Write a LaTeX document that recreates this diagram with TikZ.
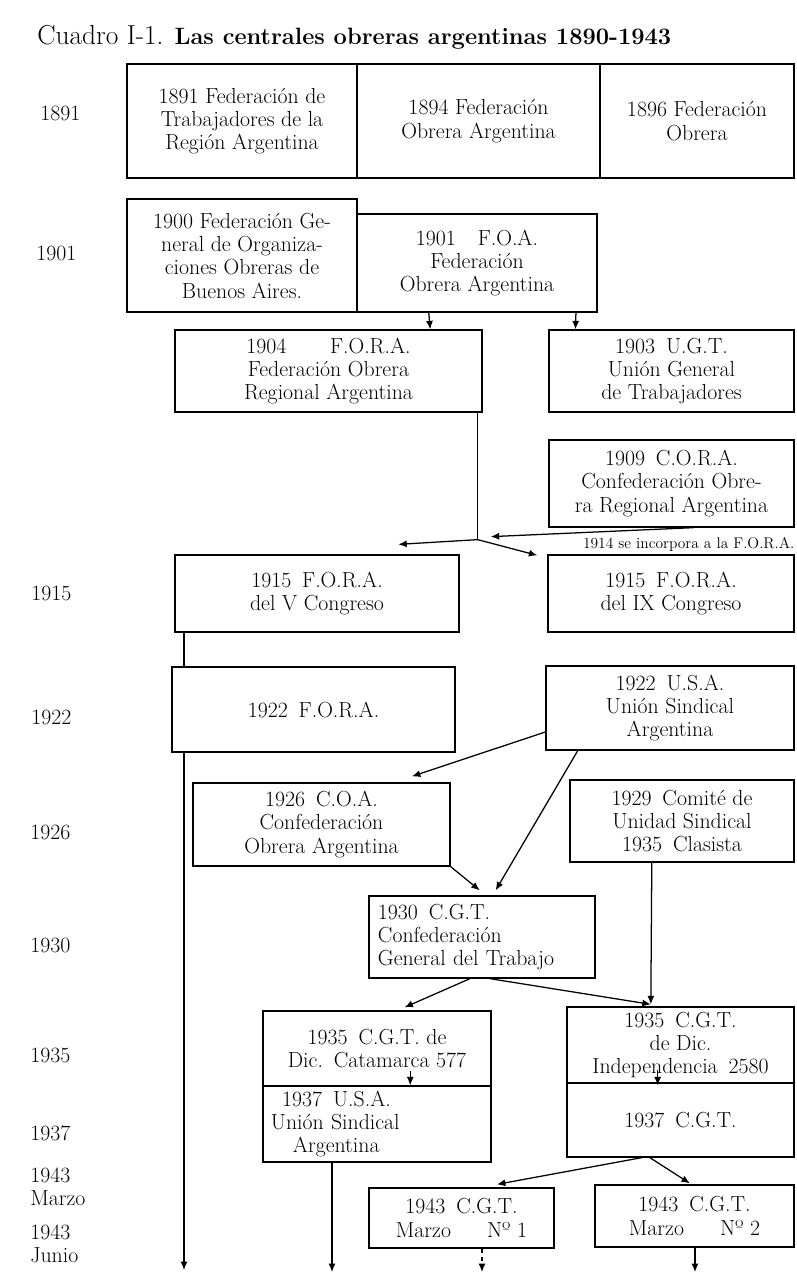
\documentclass[tikz,border=0pt]{standalone}
\usepackage{fontspec}
\usepackage{tikz}
\usetikzlibrary{arrows.meta,calc,positioning}
\def\Txt{\fontsize{15.5}{16.6}\selectfont}
\def\Nota{\fontsize{11}{12}\selectfont}

\begin{document}
\begin{tikzpicture}[x=0.025cm,y=-0.025cm,
	caja/.style={draw,line width=0.9pt,inner sep=2pt,align=center,font=\Txt},
	anio/.style={anchor=west,align=left,inner sep=0pt,font=\Txt},
	nota/.style={inner sep=0pt,font=\Nota},
	flecha/.style={line width=0.9pt,-{Latex[length=6pt,width=5pt]}},
	linea/.style={line width=0.9pt}]
	\useasboundingbox (0,0) rectangle (796,1276);
	% 
	\node[anchor=base west,inner sep=0pt] (tit) at (37,44) {\fontsize{19.5}{21}\selectfont Cuadro I-1. \fontsize{16.8}{18}\selectfont\bfseries Las centrales obreras argentinas 1890-1943};
	% 
	\node[anio] (y91) at (40,113) {1891};
	\node[anio] (y01) at (36,253) {1901};
	\node[anio] (y15) at (31,593) {1915};
	\node[anio] (y22) at (31,717) {1922};
	\node[anio] (y26) at (30,832) {1926};
	\node[anio] (y30) at (30,945) {1930};
	\node[anio] (y35) at (30,1055) {1935};
	\node[anio] (y37) at (30,1133) {1937};
	\node[anio] (y43m) at (30,1187) {1943\\Marzo};
	\node[anio] (y43j) at (30,1244) {1943\\Junio};
	% 
	\node[caja,minimum width=5.75cm,minimum height=2.85cm] (f91) at (242,121) {1891 Federación de\\Trabajadores de la\\Región Argentina};
	\node[caja,minimum width=6.075cm,minimum height=2.85cm] (f94) at (478.5,121) {1894 Federación\\Obrera Argentina};
	\node[caja,minimum width=4.85cm,minimum height=2.85cm] (f96) at (697,121) {1896 Federación\\Obrera};
	% 
	\node[caja,minimum width=5.75cm,minimum height=2.825cm] (f00) at (242,255.5) {1900 Federación Ge-\\neral de Organiza-\\ciones Obreras de\\Buenos Aires.};
	\node[caja,minimum width=6cm,minimum height=2.45cm] (f01) at (477,263) {1901\quad F.O.A.\\Federación\\Obrera Argentina};
	% 
	\node[caja,minimum width=7.675cm,minimum height=2.05cm] (f04) at (328.5,371) {1904\qquad F.O.R.A.\\Federación Obrera\\Regional Argentina};
	\node[caja,minimum width=6.125cm,minimum height=2.05cm] (u03) at (671.5,371) {1903\enspace U.G.T.\\Unión General\\de Trabajadores};
	\node[caja,minimum width=6.125cm,minimum height=2.175cm] (c09) at (671.5,483.5) {1909\enspace C.O.R.A.\\Confederación Obre-\\ra Regional Argentina};
	\node[nota,below left=7pt and 0pt of c09.south east] (n14) {1914 se incorpora a la F.O.R.A.};
	% 
	\node[caja,minimum width=7.1cm,minimum height=1.925cm] (f15a) at (317,593.5) {1915\enspace F.O.R.A.\\del V Congreso};
	\node[caja,minimum width=6.15cm,minimum height=1.925cm] (f15b) at (671,593.5) {1915\enspace F.O.R.A.\\del IX Congreso};
	\node[caja,minimum width=7.075cm,minimum height=2.125cm] (f22) at (313.5,709.5) {1922\enspace F.O.R.A.};
	\node[caja,minimum width=6.2cm,minimum height=2.1cm] (u22) at (670,708) {1922\enspace U.S.A.\\Unión Sindical\\Argentina};
	\node[caja,minimum width=6.425cm,minimum height=2.075cm] (c26) at (321.5,824.5) {1926\enspace C.O.A.\\Confederación\\Obrera Argentina};
	\node[caja,minimum width=5.6cm,minimum height=2.05cm] (c29) at (682,821) {1929\enspace Comité de\\Unidad Sindical\\1935\enspace Clasista};
	\node[caja,minimum width=5.65cm,minimum height=2.05cm,text width=5.2cm,align=left] (c30) at (482,937) {1930\enspace C.G.T.\\Confederación\\General del Trabajo};
	% 
	\node[caja,minimum width=5.7cm,minimum height=1.875cm] (c35a) at (377,1048.5) {1935\enspace C.G.T. de\\Dic.\enspace Catamarca 577};
	\node[caja,minimum width=5.7cm,minimum height=1.9cm,text width=5.3cm,align=left] (u37) at (377,1124) {\hspace*{8pt}1937\enspace U.S.A.\\Unión Sindical\\\hspace*{0.55cm}Argentina};
	\node[caja,minimum width=5.675cm,minimum height=1.9cm] (c35b) at (680.5,1045) {1935\enspace C.G.T.\\de Dic.\\Independencia\enspace 2580};
	\node[caja,minimum width=5.675cm,minimum height=1.85cm] (c37) at (680.5,1120) {1937\enspace C.G.T.};
	\node[caja,minimum width=4.625cm,minimum height=1.5cm] (c43a) at (461.5,1218) {1943\enspace C.G.T.\\Marzo\hspace{0.9cm}Nº 1};
	\node[caja,minimum width=4.975cm,minimum height=1.55cm] (c43b) at (694.5,1216) {1943\enspace C.G.T.\\Marzo\hspace{0.9cm}Nº 2};
	% 
	\coordinate (j1) at ($(f04.south west)!0.984!(f04.south east)+(0,127)$);
	\coordinate (e1) at (184,1270);
	\coordinate (e2) at (332,1272);
	\coordinate (e3) at (482,1272);
	\coordinate (e4) at (695,1272);
	% 
	\draw[flecha] ($(f01.south west)!0.30!(f01.south east)$) -- ($(f04.north west)!0.83!(f04.north east)$);
	\draw[flecha] ($(f01.south west)!0.91!(f01.south east)$) -- ($(u03.north west)!0.11!(u03.north east)$);
	\draw[linea] ($(f04.south west)!0.984!(f04.south east)$) -- (j1);
	\draw[flecha] (j1) -- ($(f15a.north west)!0.785!(f15a.north east)+(0,-10)$);
	\draw[flecha] (j1) -- ($(f15b.north west)+(-10,1)$);
	\draw[flecha] ($(c09.south west)!0.59!(c09.south east)$) -- ($(j1)+(13,-3)$);
	% 
	\draw[linea] (f15a.south -| e1) -- (f22.north -| e1);
	\draw[flecha] (f22.south -| e1) -- (e1);
	\draw[flecha] ($(u22.west)+(0,24)$) -- ($(c26.north west)!0.85!(c26.north east)+(0,-6)$);
	\draw[flecha] ($(u22.south west)!0.13!(u22.south east)$) -- ($(c30.north west)!0.56!(c30.north east)+(0,-5)$);
	\draw[flecha] (c26.south east) -- ($(c30.north west)!0.49!(c30.north east)+(0,-5)$);
	\draw[flecha] ($(c29.south west)!0.366!(c29.south east)$) -- ($(c35b.north west)!0.37!(c35b.north east)+(0,-2)$);
	% 
	\draw[flecha] ($(c30.south west)!0.447!(c30.south east)$) -- ($(c35a.north west)!0.62!(c35a.north east)+(0,-3)$);
	\draw[flecha] ($(c30.south west)!0.535!(c30.south east)$) -- ($(c35b.north west)!0.37!(c35b.north east)+(0,-2)$);
	\draw[flecha] ($(u37.north west)!0.645!(u37.north east)+(0,-14)$) -- ($(u37.north west)!0.645!(u37.north east)$);
	\draw[flecha] ($(c37.north west)!0.4!(c37.north east)+(0,-12)$) -- ($(c37.north west)!0.4!(c37.north east)+(0,3)$);
	\draw[flecha] (u37.south -| e2) -- (e2);
	\draw[flecha] ($(c37.south west)!0.33!(c37.south east)$) -- ($(c43a.north west)!0.69!(c43a.north east)+(0,-3)$);
	\draw[flecha] ($(c37.south west)!0.366!(c37.south east)$) -- ($(c43b.north west)!0.477!(c43b.north east)+(0,-1)$);
	\draw[flecha,dashed] (c43a.south -| e3) -- (e3);
	\draw[flecha] (c43b.south -| e4) -- (e4);
\end{tikzpicture}
\end{document}
